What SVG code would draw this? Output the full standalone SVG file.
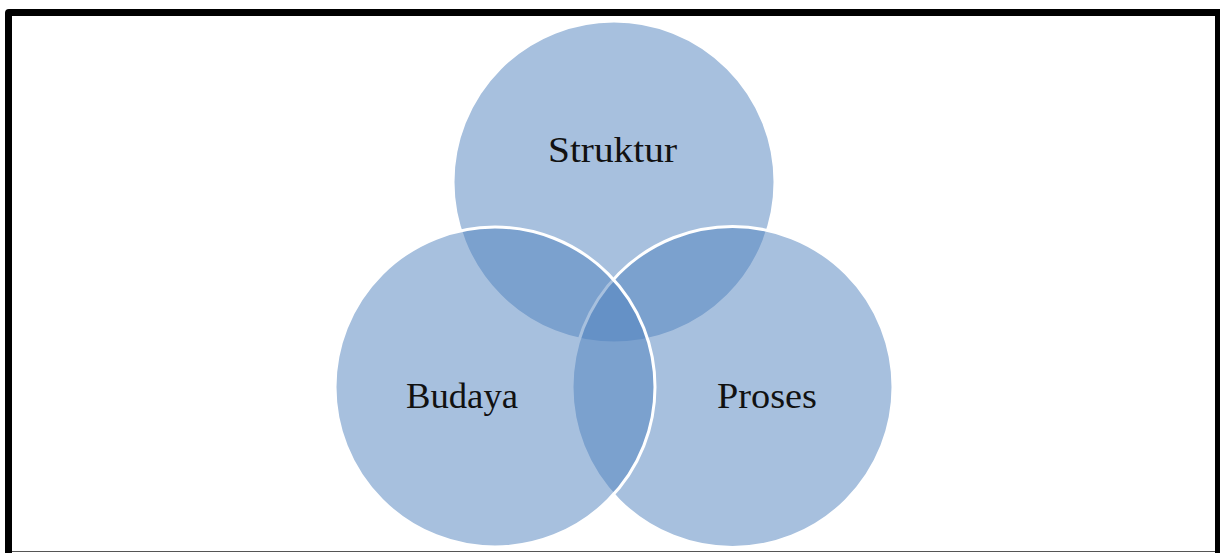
<svg xmlns="http://www.w3.org/2000/svg" width="1220" height="553" viewBox="0 0 1220 553">
  <style>
    .venn { fill: #4F81BD; fill-opacity: 0.5; stroke: #FFFFFF; stroke-width: 3; }
    .lbl { font-family: "Liberation Serif", "Times New Roman", serif; font-size: 35px; fill: #111111; text-anchor: middle; }
  </style>
  <rect x="0" y="0" width="1220" height="553" fill="#FFFFFF"/>
  <g id="frame">
    <path d="M5,553 L5,13 Q5,9 9,9 L1220,9 L1220,16 L12,16 L12,553 Z" fill="#000000"/>
    <rect x="1215" y="9" width="5" height="544" fill="#000000"/>
    <line x1="12" y1="551.5" x2="1215" y2="551.5" stroke="#555555" stroke-width="1"/>
  </g>
  <g id="node-struktur">
    <circle class="venn" cx="614" cy="182" r="161"/>
  </g>
  <g id="node-proses">
    <circle class="venn" cx="732.5" cy="387" r="160.5"/>
  </g>
  <g id="node-budaya">
    <circle class="venn" cx="495" cy="387" r="160"/>
  </g>
  <g id="connectors"></g>
  <g id="labels">
    <text class="lbl" x="612.5" y="162" textLength="129" lengthAdjust="spacingAndGlyphs">Struktur</text>
    <text class="lbl" x="462" y="408" textLength="112" lengthAdjust="spacingAndGlyphs">Budaya</text>
    <text class="lbl" x="767" y="408" textLength="100" lengthAdjust="spacingAndGlyphs">Proses</text>
  </g>
</svg>
